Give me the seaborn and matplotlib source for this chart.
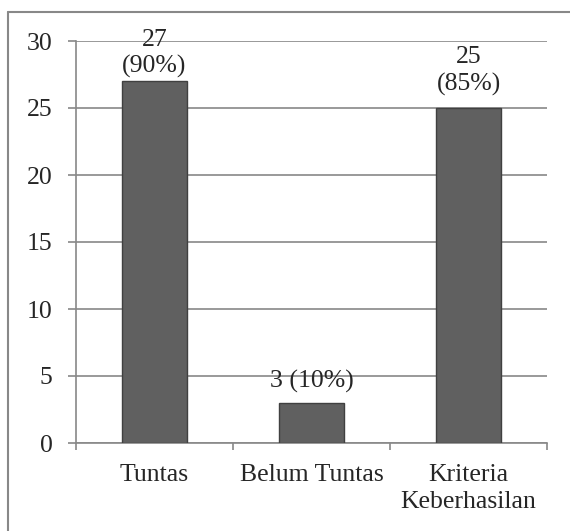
import matplotlib
matplotlib.use("Agg")
import matplotlib.pyplot as plt
import seaborn as sns
from matplotlib.lines import Line2D

# data
kategori = ["Tuntas", "Belum Tuntas", "Kriteria\nKeberhasilan"]
jumlah = [27, 3, 25]
label_bar = ["27\n(90%)", "3 (10%)", "25\n(85%)"]
jarak_label = [2, 7, 9]  # offset label di atas bar (pt)

sns.set_style("white")
plt.rcParams['font.family'] = ['Liberation Serif', 'DejaVu Serif']
ukuran = 18.5

fig = plt.figure(figsize=(5.70, 5.31), dpi=100)
ax = fig.add_axes([76 / 570, 1 - 443 / 531, (547 - 76) / 570, (443 - 41) / 531])

sns.barplot(x=kategori, y=jumlah, color="#606060", saturation=1, width=0.41,
            edgecolor="#404040", linewidth=1, ax=ax, zorder=3)

for p, teks, off in zip(ax.patches, label_bar, jarak_label):
    ax.annotate(teks, (p.get_x() + p.get_width() / 2, p.get_height()),
                xytext=(0, off), textcoords="offset points",
                ha="center", va="bottom", fontsize=ukuran, linespacing=1.25,
                zorder=4)

ax.set_ylim(0, 30)
ax.set_xlim(-0.5, 2.5)
ax.set_yticks(range(0, 31, 5))
ax.yaxis.grid(True, color="#888888", linewidth=1.2)
ax.set_axisbelow(True)

# tick kategori: tanpa garis, garis tick di batas kategori
ax.set_xticks([-0.5, 0.5, 1.5, 2.5], minor=True)
ax.tick_params(axis="x", which="major", length=0, pad=15, labelsize=ukuran)
ax.tick_params(axis="x", which="minor", length=5, width=1.2, color="#888888",
               direction="out", bottom=True)
ax.tick_params(axis="y", length=6, width=1.2, color="#888888", direction="out",
               left=True, pad=11, labelsize=ukuran)
for lbl in ax.get_xticklabels():
    lbl.set_linespacing(1.3)

for s in ["top", "right"]:
    ax.spines[s].set_visible(False)
for s in ["left", "bottom"]:
    ax.spines[s].set_color("#888888")
    ax.spines[s].set_linewidth(1.2)
ax.set_xlabel("")
ax.set_ylabel("")

# bingkai luar (terpotong di kanan dan bawah)
x0 = 8 / 570
y0 = 1 - 12 / 531
fig.add_artist(Line2D([x0, 1], [y0, y0], color="#888888", lw=1.5,
                      transform=fig.transFigure))
fig.add_artist(Line2D([x0, x0], [0, y0], color="#888888", lw=1.5,
                      transform=fig.transFigure))

fig.savefig("out.png", dpi=100)
